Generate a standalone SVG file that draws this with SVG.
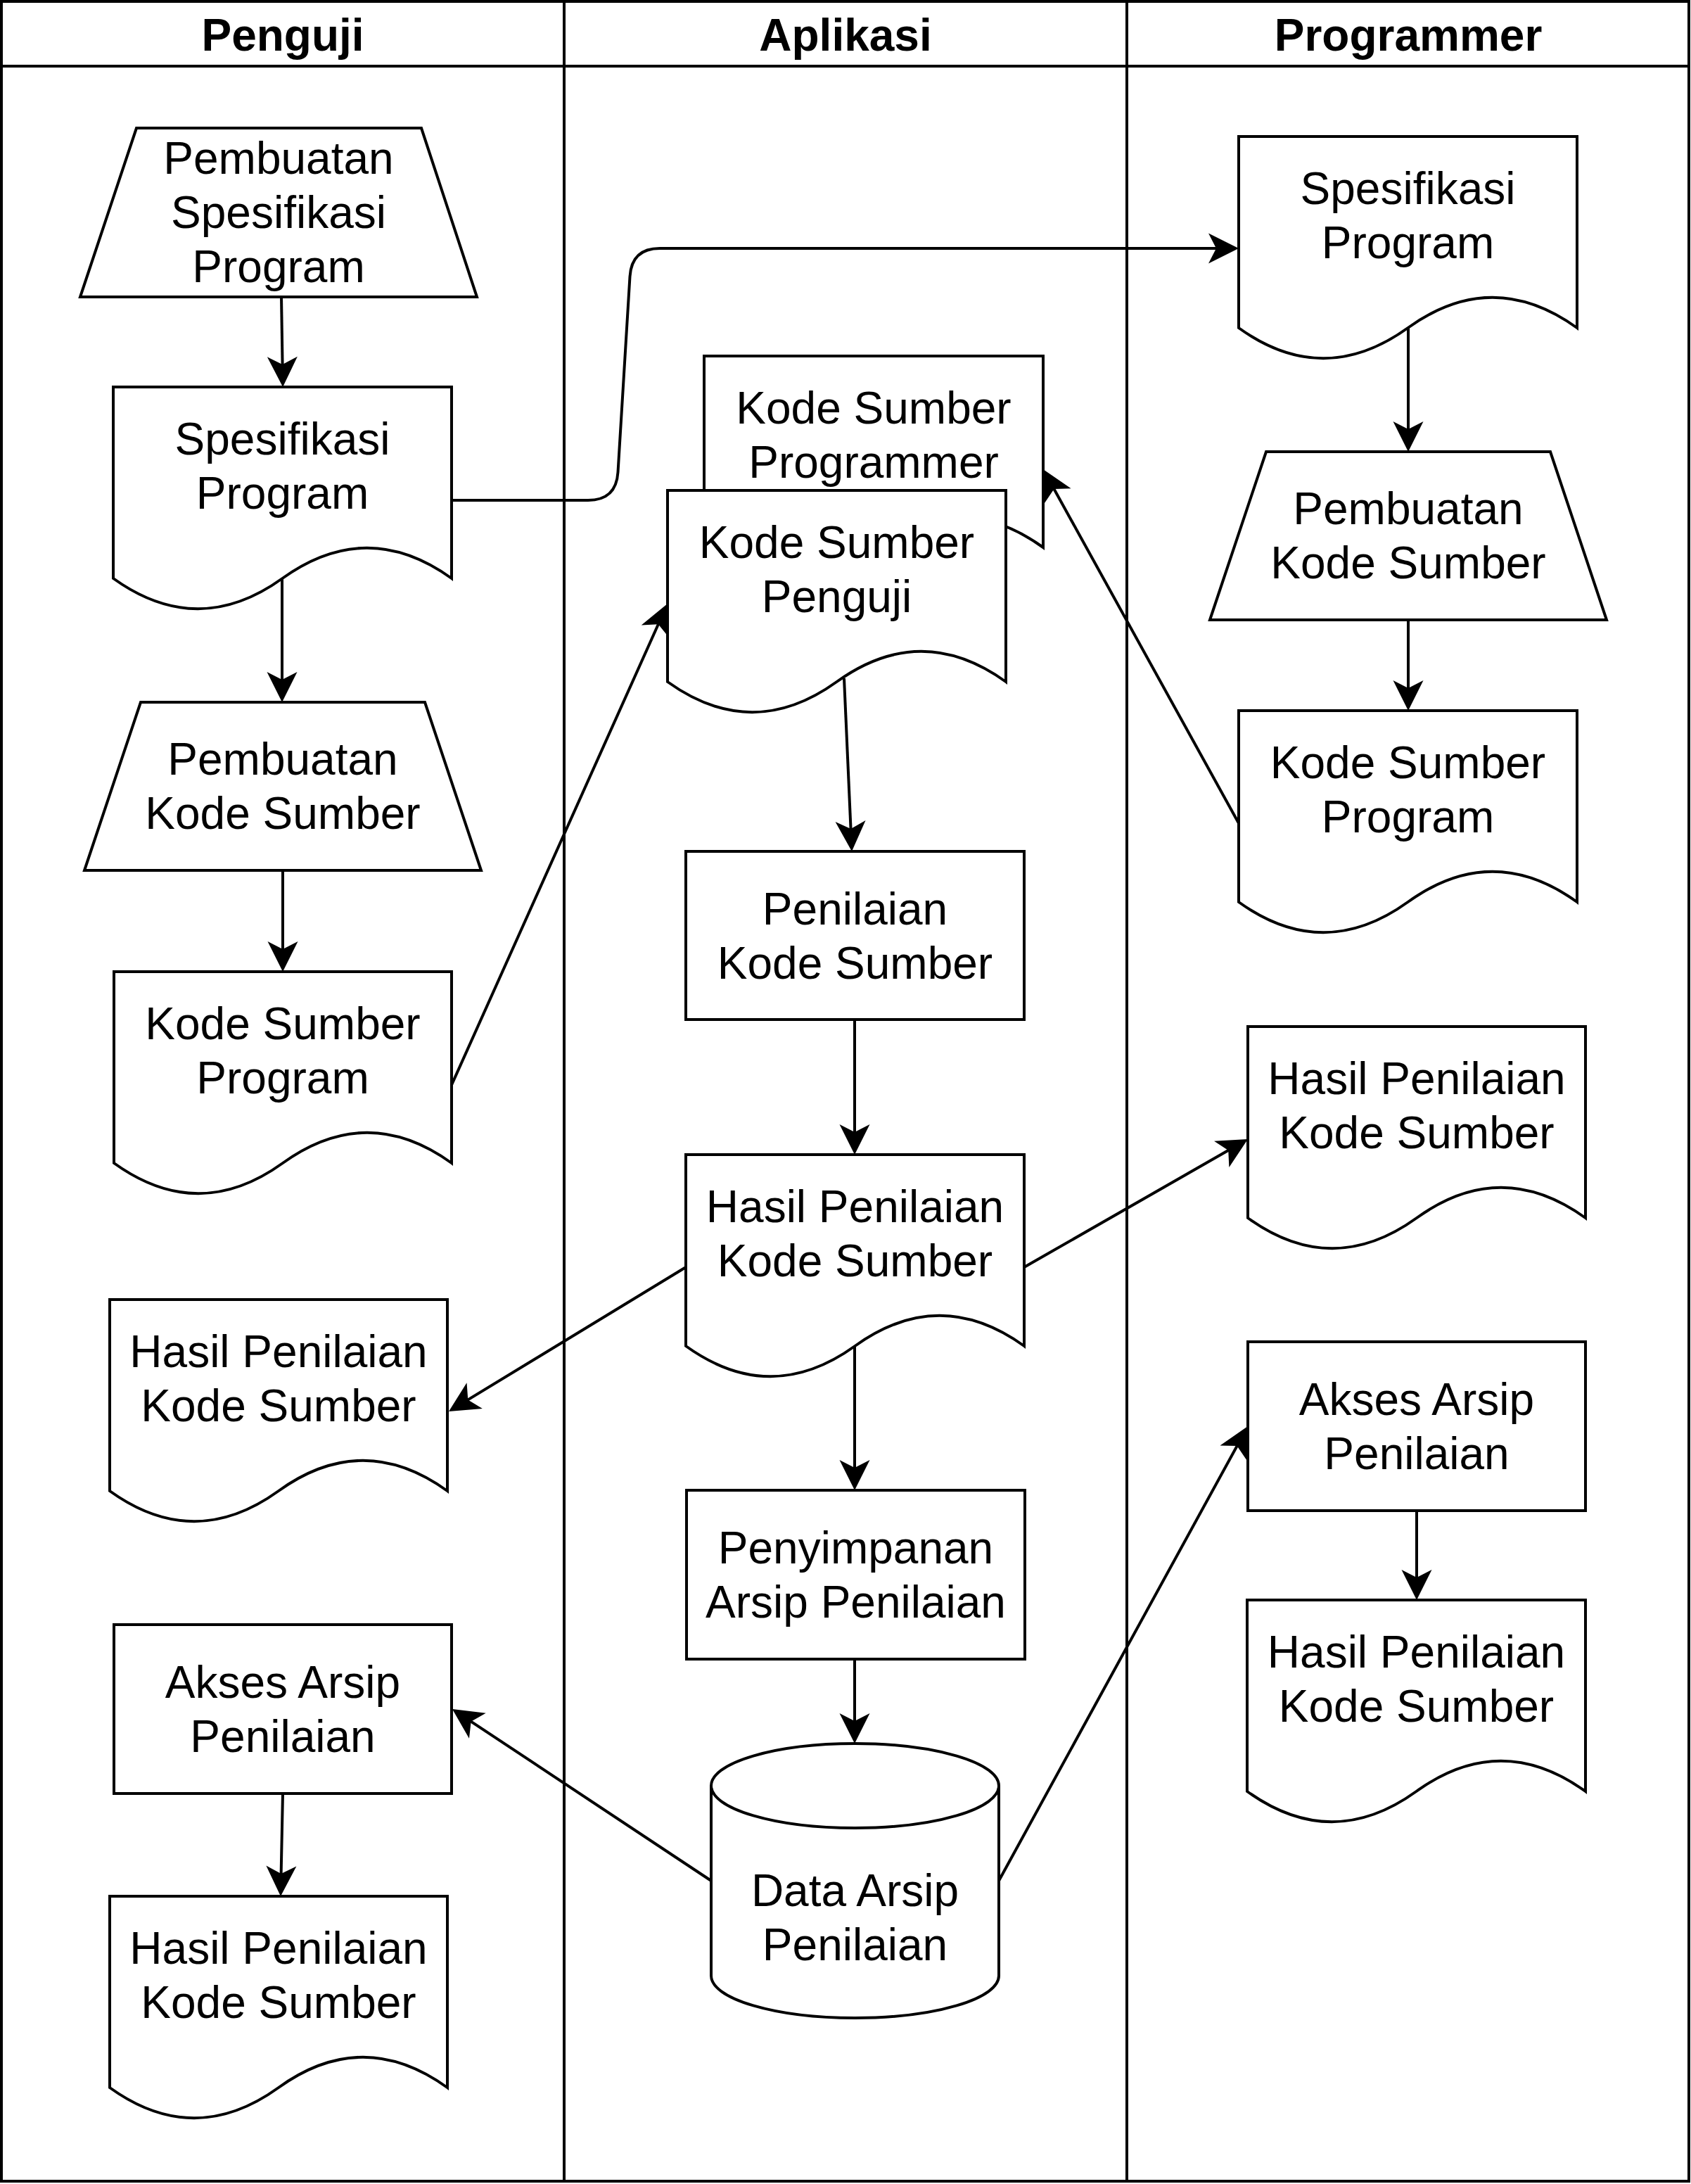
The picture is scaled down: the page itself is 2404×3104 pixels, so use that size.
<svg xmlns="http://www.w3.org/2000/svg" width="2404" height="3104" viewBox="0 0 2404 3104">
<style>
.s{fill:#fff;stroke:#000;stroke-width:4;stroke-linejoin:miter}
.ln{fill:none;stroke:#000;stroke-width:4}
.t{font-family:"Liberation Sans",Arial,sans-serif;font-size:64px;text-anchor:middle;fill:#000}
.h{font-weight:bold}
.c{fill:none;stroke:#000;stroke-width:4;marker-end:url(#arr)}
</style>
<defs>
<marker id="arr" markerUnits="userSpaceOnUse" viewBox="-44 -22 45 44" markerWidth="45" markerHeight="44" refX="-6" refY="0" orient="auto">
<path d="M0,0 L-43,-21.5 L-32,0 L-43,21.5 Z" fill="#000" stroke="none"/>
</marker>
</defs>
<rect width="2404" height="3104" fill="#fff"/>
<g id="pool">
<rect x="2" y="2" width="2399" height="3098" class="ln"/>
<line x1="2" y1="94" x2="2401" y2="94" class="ln"/>
<line x1="802" y1="2" x2="802" y2="3100" class="ln"/>
<line x1="1602" y1="2" x2="1602" y2="3100" class="ln"/>
<text class="t h" x="402" y="72">Penguji</text>
<text class="t h" x="1202" y="72">Aplikasi</text>
<text class="t h" x="2002" y="72">Programmer</text>
</g>
<g id="connectors">
<path class="c" d="M400,422 L402,544"/>
<path class="c" d="M642,711 L836,711 Q876,711 878.5,671 L895.5,393 Q898,353 938,353 L1755,353"/>
<path class="c" d="M401,822 L401,992"/>
<path class="c" d="M402,1237 L402,1375"/>
<path class="c" d="M642,1542 L946.5,863.5"/>
<path class="c" d="M1200,964 L1210.7,1204"/>
<path class="c" d="M1761,1170 L1485.9,672.3"/>
<path class="c" d="M2002,466 L2002,636"/>
<path class="c" d="M2002,881 L2002,1004"/>
<path class="c" d="M1215,1449 L1215,1635"/>
<path class="c" d="M1456,1801 L1768.8,1622"/>
<path class="c" d="M975,1801 L643.1,2002.9"/>
<path class="c" d="M1215,1913 L1215,2112"/>
<path class="c" d="M1215,2358 L1215,2472"/>
<path class="c" d="M1011,2673 L648,2432.3"/>
<path class="c" d="M1420,2673 L1771.1,2032.3"/>
<path class="c" d="M2014,2147 L2014,2268"/>
<path class="c" d="M402,2549 L399.1,2689"/>
</g>
<g id="n1">
<path class="s" d="M194,182 H599 L678,422 H114 Z"/>
<text class="t"><tspan x="396" y="247.4">Pembuatan</tspan><tspan x="396" y="324.2">Spesifikasi</tspan><tspan x="396" y="401">Program</tspan></text>
</g>
<g id="n2">
<path class="s" d="M161,550 H642 V822 Q521.75,735.6 401.5,822 Q281.25,908.4 161,822 Z"/>
<text class="t"><tspan x="401.5" y="645.8">Spesifikasi</tspan><tspan x="401.5" y="722.6">Program</tspan></text>
</g>
<g id="n3">
<path class="s" d="M200,998 H604 L684,1237 H120 Z"/>
<text class="t"><tspan x="402" y="1101.3">Pembuatan</tspan><tspan x="402" y="1178.1">Kode Sumber</tspan></text>
</g>
<g id="n4">
<path class="s" d="M162,1381 H642 V1653 Q522,1566.6 402,1653 Q282,1739.4 162,1653 Z"/>
<text class="t"><tspan x="402" y="1476.8">Kode Sumber</tspan><tspan x="402" y="1553.6">Program</tspan></text>
</g>
<g id="n5">
<path class="s" d="M156,1847 H636 V2119 Q516,2032.6 396,2119 Q276,2205.4 156,2119 Z"/>
<text class="t"><tspan x="396" y="1942.8">Hasil Penilaian</tspan><tspan x="396" y="2019.6">Kode Sumber</tspan></text>
</g>
<g id="n6">
<rect class="s" x="162" y="2309" width="480" height="240"/>
<text class="t"><tspan x="402" y="2412.8">Akses Arsip</tspan><tspan x="402" y="2489.6">Penilaian</tspan></text>
</g>
<g id="n7">
<path class="s" d="M156,2695 H636 V2967 Q516,2880.6 396,2967 Q276,3053.4 156,2967 Z"/>
<text class="t"><tspan x="396" y="2790.8">Hasil Penilaian</tspan><tspan x="396" y="2867.6">Kode Sumber</tspan></text>
</g>
<g id="n8">
<path class="s" d="M1001,506 H1483 V778 Q1362.5,691.6 1242,778 Q1121.5,864.4 1001,778 Z"/>
<text class="t"><tspan x="1242" y="601.8">Kode Sumber</tspan><tspan x="1242" y="678.6">Programmer</tspan></text>
</g>
<g id="n9">
<path class="s" d="M949,697 H1430 V969 Q1309.75,882.6 1189.5,969 Q1069.25,1055.4 949,969 Z"/>
<text class="t"><tspan x="1189.5" y="792.8">Kode Sumber</tspan><tspan x="1189.5" y="869.6">Penguji</tspan></text>
</g>
<g id="n10">
<rect class="s" x="975" y="1210" width="481" height="239"/>
<text class="t"><tspan x="1215.5" y="1313.8">Penilaian</tspan><tspan x="1215.5" y="1390.6">Kode Sumber</tspan></text>
</g>
<g id="n11">
<path class="s" d="M975,1641 H1456 V1913 Q1335.75,1826.6 1215.5,1913 Q1095.25,1999.4 975,1913 Z"/>
<text class="t"><tspan x="1215.5" y="1736.8">Hasil Penilaian</tspan><tspan x="1215.5" y="1813.6">Kode Sumber</tspan></text>
</g>
<g id="n12">
<rect class="s" x="976" y="2118" width="481" height="240"/>
<text class="t"><tspan x="1216.5" y="2221.8">Penyimpanan</tspan><tspan x="1216.5" y="2298.6">Arsip Penilaian</tspan></text>
</g>
<g id="n13">
<path class="s" d="M1011,2538 A204.5,60 0 0 1 1420,2538 V2808 A204.5,60 0 0 1 1011,2808 Z"/>
<path class="ln" d="M1011,2538 A204.5,60 0 0 0 1420,2538"/>
<text class="t"><tspan x="1215.5" y="2708.8">Data Arsip</tspan><tspan x="1215.5" y="2785.6">Penilaian</tspan></text>
</g>
<g id="n14">
<path class="s" d="M1761,194 H2242 V466 Q2121.75,379.6 2001.5,466 Q1881.25,552.4 1761,466 Z"/>
<text class="t"><tspan x="2001.5" y="289.8">Spesifikasi</tspan><tspan x="2001.5" y="366.6">Program</tspan></text>
</g>
<g id="n15">
<path class="s" d="M1800,642 H2204 L2284,881 H1720 Z"/>
<text class="t"><tspan x="2002" y="745.3">Pembuatan</tspan><tspan x="2002" y="822.1">Kode Sumber</tspan></text>
</g>
<g id="n16">
<path class="s" d="M1761,1010 H2242 V1282 Q2121.75,1195.6 2001.5,1282 Q1881.25,1368.4 1761,1282 Z"/>
<text class="t"><tspan x="2001.5" y="1105.8">Kode Sumber</tspan><tspan x="2001.5" y="1182.6">Program</tspan></text>
</g>
<g id="n17">
<path class="s" d="M1774,1459 H2254 V1731 Q2134,1644.6 2014,1731 Q1894,1817.4 1774,1731 Z"/>
<text class="t"><tspan x="2014" y="1554.8">Hasil Penilaian</tspan><tspan x="2014" y="1631.6">Kode Sumber</tspan></text>
</g>
<g id="n18">
<rect class="s" x="1774" y="1907" width="480" height="240"/>
<text class="t"><tspan x="2014" y="2010.8">Akses Arsip</tspan><tspan x="2014" y="2087.6">Penilaian</tspan></text>
</g>
<g id="n19">
<path class="s" d="M1773,2274 H2254 V2546 Q2133.75,2459.6 2013.5,2546 Q1893.25,2632.4 1773,2546 Z"/>
<text class="t"><tspan x="2013.5" y="2369.8">Hasil Penilaian</tspan><tspan x="2013.5" y="2446.6">Kode Sumber</tspan></text>
</g>
</svg>
